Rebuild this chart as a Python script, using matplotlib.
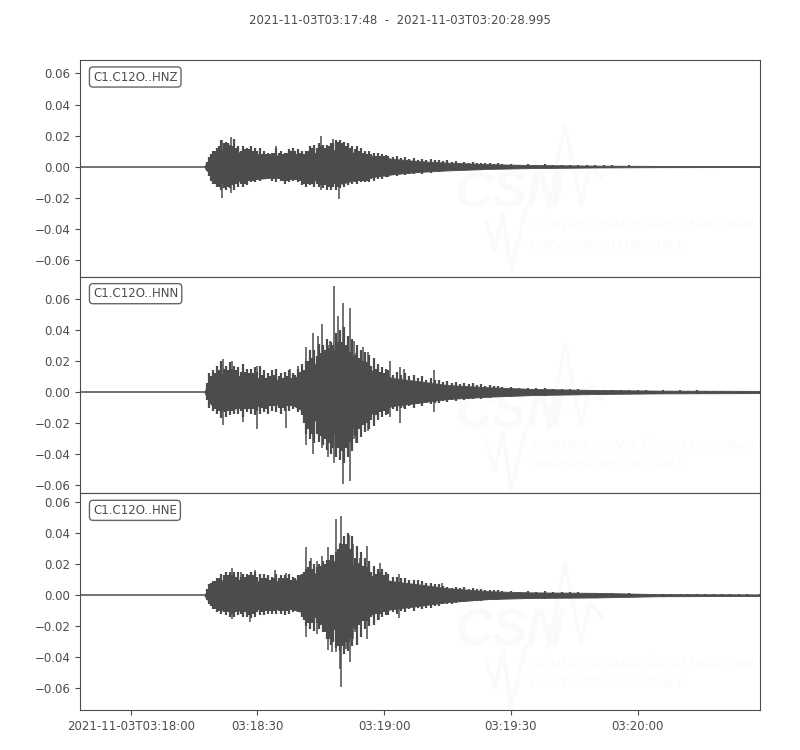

import matplotlib
matplotlib.use("Agg")
import matplotlib.pyplot as plt

TITLE = "2021-11-03T03:17:48  -  2021-11-03T03:20:28.995"
XTICKS = [0, 30, 60, 90, 120]
XTICK_LABELS = ["2021-11-03T03:18:00", "03:18:30", "03:19:00", "03:19:30", "03:20:00"]
YTICKS = [-0.06, -0.04, -0.02, 0.0, 0.02, 0.04, 0.06]

# seconds after 03:18:00
TIME_QUIET = [-12, 17.5]
TIME = [18, 19, 20, 21, 22, 23, 24, 25, 26, 27, 28, 29, 30, 31, 32, 33, 34, 35, 36, 37, 38,
        39, 40, 41, 42, 43, 44, 45, 46, 47, 48, 49, 50, 51, 52, 53, 54, 55, 56, 57, 58, 59, 60,
        62, 64, 66, 68, 70, 72, 74, 76, 78, 80, 82, 84, 86, 88,
        92, 96, 100, 104, 108, 112, 116, 120, 124, 128, 132, 136, 140, 144, 149]
# oscillation peaks between the knots above
TIME_JAG = [18.5, 19.5, 20.5, 21.5, 22.5, 23.5, 24.5, 25.5, 26.5, 27.5, 28.5, 29.5, 30.5, 31.5,
            32.5, 33.5, 34.5, 35.5, 36.5, 37.5, 38.5, 39.5, 40.5, 41.5, 42.5, 43.5, 44.5, 45.5,
            46.5, 47.5, 48.5, 49.5, 50.5, 51.5, 52.5, 53.5, 54.5, 55.5, 56.5, 57.5, 58.5, 59.5, 60.5,
            61, 63, 65, 67, 69, 71, 73, 75, 77, 79, 81, 83, 85, 87,
            90, 94, 98, 102, 106, 110, 114, 118, 122, 126, 130, 134, 138, 142, 146]
# solid band of the trace, half width
TIME_CORE = [17.5, 19, 22, 26, 30, 34, 38, 42, 46, 50, 54, 58, 62, 68, 75, 85, 95, 110, 125, 149]

# envelopes in units of 0.001
HNZ_CORE = [0.5, 6, 11, 9, 8, 7, 8, 8, 10, 11, 8, 6.5, 5, 3.5, 2.5, 1.5, 1, 0.6, 0.4, 0.3]
HNZ_UP = [3, 8, 10, 13, 15, 15, 13, 12, 10, 11, 11, 10, 10, 8, 8, 8, 9, 9, 8, 9, 10,
          10, 9, 8, 10, 12, 12, 13, 12, 13, 15, 16, 15, 13, 12, 11, 10, 9, 8, 8, 7, 7, 6.5,
          6, 5.5, 5, 4.5, 4, 4, 3.5, 3, 2.5, 2.5, 2, 2, 1.8, 1.6,
          1.3, 1.2, 1, 0.9, 0.8, 0.7, 0.6, 0.5, 0.4, 0.4, 0.35, 0.3, 0.3, 0.3, 0.3]
HNZ_LOW = [-3, -9, -11, -13, -14, -13, -12, -11, -11, -11, -9, -9, -8, -6, -6, -7, -8, -8, -9, -9, -8,
           -8, -9, -11, -11, -11, -11, -12, -12, -13, -13, -13, -11, -10, -10, -10, -9, -9, -9, -8, -7, -7, -6,
           -5.5, -5, -4.5, -4, -3.5, -3, -3, -2.5, -2.2, -2, -1.8, -1.6, -1.4, -1.3,
           -1.2, -1, -0.9, -0.8, -0.7, -0.7, -0.5, -0.5, -0.4, -0.3, -0.3, -0.3, -0.3, -0.3, -0.3]
HNZ_JAG_UP = [6, 10, 12, 17, 16, 14, 18, 13, 13, 12, 13, 12, 12, 10, 9, 9, 12, 10, 9, 11,
              12, 11, 10, 10, 13, 14, 15, 14, 14, 15, 17, 17, 16, 15, 13, 13, 12, 10, 10, 9, 9, 8, 7.5,
              7, 6.5, 6, 5.5, 5, 5, 4, 4, 3.5, 3, 2.8, 2.5, 2.2, 2,
              1.7, 1.5, 1.4, 1.2, 1, 0.9, 0.8, 0.7, 0.6, 0.5, 0.5, 0.5, 0.4, 0.4, 0.4]
HNZ_JAG_LOW = [-6, -11, -13, -15, -15, -14, -15, -13, -13, -12, -10, -10, -9, -8, -7, -9, -10, -9, -11, -10,
               -9, -10, -12, -13, -12, -13, -13, -14, -15, -15, -15, -14, -13, -12, -11, -11, -10, -10, -10, -9, -8, -8, -7,
               -6.5, -6, -5.5, -5, -4.5, -4, -3.5, -3, -2.8, -2.5, -2.2, -2, -1.8, -1.6,
               -1.4, -1.2, -1.1, -1, -0.9, -0.8, -0.7, -0.6, -0.5, -0.5, -0.4, -0.4, -0.4, -0.4, -0.4]
HNZ_SPIKE_T = [21.4, 21.6, 23.8, 34.3, 45, 48, 49.3]
HNZ_SPIKE_UP = [17, 17, 19, 13.5, 20, 17.5, 15]
HNZ_SPIKE_LOW = [-14, -20, -17, -8, -15, -13, -21]

HNN_CORE = [0.5, 8, 12, 10, 9, 8, 8, 14, 24, 29, 20, 12, 9, 7, 4.5, 3, 2, 1.3, 0.9, 0.7]
HNN_UP = [6, 10, 12, 14, 15, 14, 15, 14, 13, 13, 12, 12, 13, 11, 9, 10, 11, 10, 9, 10, 9,
          11, 13, 14, 20, 22, 23, 25, 27, 28, 30, 32, 32, 30, 26, 24, 22, 20, 19, 17, 15, 13, 12,
          11, 11, 10, 9, 8, 7.5, 6.5, 6, 5, 5, 4.5, 4, 3.8, 3.5,
          2.8, 2.3, 2, 1.7, 1.4, 1.1, 1, 1, 0.9, 0.8, 0.8, 0.7, 0.7, 0.7, 0.7]
HNN_LOW = [-5, -8, -11, -12, -13, -12, -12, -11, -12, -11, -11, -11, -12, -10, -11, -9, -9, -10, -10, -9, -9,
           -9, -11, -20, -24, -27, -27, -28, -30, -33, -36, -36, -38, -36, -32, -28, -24, -21, -20, -18, -15, -13, -12,
           -11, -10, -9, -8, -7, -7, -6, -5, -4.5, -4.5, -4, -3.5, -3.3, -3,
           -2.6, -2.2, -2, -1.7, -1.5, -1.3, -1.2, -1.1, -1, -0.9, -0.8, -0.7, -0.7, -0.7, -0.7]
HNN_JAG_UP = [12, 14, 17, 20, 17, 19, 17, 16, 18, 15, 15, 16, 17, 14, 12, 14, 15, 12, 13, 14,
              12, 15, 18, 20, 27, 27, 31, 30, 34, 32, 38, 40, 42, 36, 34, 30, 27, 26, 24, 22, 18, 16, 15,
              14, 13, 12, 11, 10, 9, 8, 7, 6.5, 6, 5.5, 5, 4.5, 4,
              3.3, 2.8, 2.5, 2.1, 1.8, 1.5, 1.3, 1.2, 1.1, 1.1, 1, 1, 0.9, 0.9, 0.9]
HNN_JAG_LOW = [-10, -12, -14, -17, -16, -15, -14, -14, -16, -13, -14, -15, -14, -13, -14, -12, -13, -14, -12, -12,
               -11, -13, -15, -27, -30, -33, -32, -34, -37, -40, -42, -44, -46, -42, -38, -33, -29, -26, -24, -22, -18, -16, -15,
               -14, -12, -11, -10, -9, -8, -7, -6.5, -6, -5, -4.5, -4.2, -3.8, -3.5,
               -3.2, -2.7, -2.5, -2.2, -1.9, -1.6, -1.5, -1.3, -1.2, -1.1, -1, -1, -0.9, -0.9, -0.9]
HNN_SPIKE_T = [21.8, 23.9, 26.6, 29.8, 36.7, 37.7, 39.7, 41.6, 43.2, 44.4, 45.4, 46.7, 47.2, 48.1, 49, 50.2,
               51.9, 52.8, 53.3, 55, 56.2, 61.4, 63.8, 64.6, 71.8]
HNN_SPIKE_UP = [21, 20, 14, 17, 9, 15, 17, 29, 38, 36, 44, 30, 33, 68, 49, 57,
                54, 33, 25, 29, 26, 20, 16, 15, 14]
HNN_SPIKE_LOW = [-21, -12, -19, -24, -23, -9, -11, -34, -40, -27, -36, -42, -33, -46, -36, -59,
                 -57, -30, -33, -21, -25, -16, -20, -10, -13]

HNE_CORE = [0.5, 6, 10, 10, 9, 9, 9, 12, 17, 26, 17, 11, 9, 7, 4.5, 2.5, 1.8, 1.5, 0.7, 0.5]
HNE_UP = [4, 8, 9, 11, 13, 13, 13, 12, 12, 12, 13, 13, 12, 11, 11, 10, 11, 11, 11, 11, 10,
          11, 13, 15, 18, 17, 18, 19, 20, 23, 26, 30, 33, 33, 30, 24, 21, 19, 18, 15, 14, 15, 13,
          12, 11, 10, 9.5, 8, 7, 6, 4.8, 4.5, 4.2, 4, 3.6, 3.2, 2.8,
          2.1, 2.1, 2.1, 1.9, 1.7, 1.4, 1, 0.9, 0.8, 0.7, 0.6, 0.6, 0.5, 0.5, 0.5]
HNE_LOW = [-3, -7, -9, -10, -11, -11, -12, -11, -12, -11, -13, -12, -11, -11, -10, -10, -10, -10, -10, -10, -9,
           -9, -10, -16, -18, -18, -18, -19, -24, -28, -30, -33, -33, -30, -28, -22, -19, -17, -17, -14, -12, -12, -11,
           -11, -10, -9, -8.5, -8, -7, -6, -5.4, -4.5, -4, -3.6, -3.2, -2.8, -2.5,
           -2.1, -2, -1.9, -1.8, -1.7, -1.4, -1, -0.9, -0.8, -0.7, -0.6, -0.6, -0.5, -0.5, -0.5]
HNE_JAG_UP = [7, 9, 11, 14, 15, 15, 15, 15, 14, 14, 15, 15, 14, 14, 13, 12, 14, 13, 13, 14,
              12, 13, 14, 17, 22, 20, 20, 22, 23, 26, 28, 33, 38, 40, 38, 32, 28, 24, 22, 19, 17, 17, 15,
              14, 12, 11, 10, 9, 8, 7, 5.5, 5, 5, 4.5, 4, 3.6, 3.2,
              2.5, 2.5, 2.4, 2.2, 2, 1.7, 1.3, 1.1, 1, 0.9, 0.8, 0.7, 0.7, 0.6, 0.6]
HNE_JAG_LOW = [-6, -9, -11, -12, -13, -14, -14, -13, -14, -14, -15, -14, -13, -13, -12, -12, -12, -12, -13, -12,
               -11, -11, -14, -20, -22, -23, -22, -24, -28, -32, -34, -36, -38, -36, -33, -32, -27, -22, -20, -19, -16, -14, -13,
               -13, -12, -11, -10, -9, -8, -7, -6, -5, -4.5, -4, -3.5, -3.2, -2.8,
               -2.4, -2.3, -2.2, -2, -1.9, -1.7, -1.3, -1.1, -1, -0.9, -0.8, -0.7, -0.7, -0.6, -0.6]
HNE_SPIKE_T = [24, 26.2, 28.3, 29.4, 34.1, 36.7, 41.6, 42.8, 44, 45.4, 46.8, 47.7, 48.5, 49.5, 49.9, 51,
               51.7, 52, 52.7, 53, 54.2, 56, 58.7, 59, 63.5, 73.6]
HNE_SPIKE_UP = [17.6, 15, 12, 16, 16, 14.6, 31, 24, 22, 25, 31, 25, 49, 34, 51, 32,
                39, 30, 33, 22, 24, 32, 14, 21, 14, 8]
HNE_SPIKE_LOW = [-15.5, -11, -17.6, -12, -10, -10, -27, -18, -25, -19, -35.5, -37, -36.5, -48, -59.5, -35,
                 -30, -43, -28, -24, -19, -28, -16, -12, -15, -6]

CHANNELS = ["C1.C12O..HNZ", "C1.C12O..HNN", "C1.C12O..HNE"]
YLIMS = [(-0.071, 0.0687), (-0.0652, 0.0742), (-0.0742, 0.0658)]
INK = "#4c4c4c"
WATERMARK = "#fafafa"

W, H = 800, 750


def fx(px):
    return px / W


def fy(py):
    return 1 - py / H


def milli(values):
    return [v / 1000 for v in values]


def draw_watermark(ax, fig, dy):
    """Faint logo behind the trace, placed in figure pixels."""
    tr = fig.transFigure
    ax.text(fx(455), fy(207 + dy), "CSN", transform=tr, color=WATERMARK, fontsize=37, family="Liberation Sans",
            style="italic", weight="bold", clip_on=False, zorder=0)
    ax.text(fx(532), fy(229 + dy), "CENTRO SISMOLÓGICO NACIONAL", transform=tr, color=WATERMARK,
            fontsize=9.5, family="Liberation Sans", style="italic", clip_on=False, zorder=0)
    ax.text(fx(530), fy(249 + dy), "UNIVERSIDAD DE CHILE", transform=tr, color=WATERMARK,
            fontsize=9.5, family="Liberation Sans", style="italic", clip_on=False, zorder=0)
    ax.plot([fx(p) for p in (548, 565, 581, 590, 603)],
            [fy(p + dy) for p in (208, 125, 205, 165, 180)],
            transform=tr, color=WATERMARK, lw=2.5, clip_on=False, zorder=0)
    ax.plot([fx(p) for p in (486, 495, 503, 511, 526)],
            [fy(p + dy) for p in (222, 250, 212, 270, 208)],
            transform=tr, color=WATERMARK, lw=2.5, clip_on=False, zorder=0)


def draw_trace(ax, core, up, low, jag_up, jag_low, spike_t, spike_up, spike_low):
    half = milli(core)
    ax.plot(TIME_QUIET, [0, 0], color=INK, lw=1.1, zorder=2)
    ax.fill_between(TIME_CORE, [-v for v in half], half, color=INK, lw=0.6, zorder=2)
    ax.vlines(TIME, milli(low), milli(up), color=INK, lw=1.6, zorder=2)
    ax.vlines(TIME_JAG, milli(jag_low), milli(jag_up), color=INK, lw=1.6, zorder=2)
    ax.vlines(spike_t, milli(spike_low), milli(spike_up), color=INK, lw=1.1, zorder=2)
    ax.plot([TIME_CORE[-1] - 0.005, TIME_CORE[-1]], [0, 0], color=INK, lw=1.1, zorder=2)


plt.rcParams["font.family"] = "DejaVu Sans"
plt.rcParams["font.size"] = 8.5

fig, axes = plt.subplots(3, 1, figsize=(8, 7.5), dpi=100, sharex=True)
fig.subplots_adjust(left=80 / W, right=760 / W, top=1 - 60 / H, bottom=1 - 710 / H, hspace=0)

traces = [
    (HNZ_CORE, HNZ_UP, HNZ_LOW, HNZ_JAG_UP, HNZ_JAG_LOW, HNZ_SPIKE_T, HNZ_SPIKE_UP, HNZ_SPIKE_LOW),
    (HNN_CORE, HNN_UP, HNN_LOW, HNN_JAG_UP, HNN_JAG_LOW, HNN_SPIKE_T, HNN_SPIKE_UP, HNN_SPIKE_LOW),
    (HNE_CORE, HNE_UP, HNE_LOW, HNE_JAG_UP, HNE_JAG_LOW, HNE_SPIKE_T, HNE_SPIKE_UP, HNE_SPIKE_LOW),
]
offsets = [0, 220, 438]

for ax, trace, name, ylim, dy in zip(axes, traces, CHANNELS, YLIMS, offsets):
    draw_watermark(ax, fig, dy)
    draw_trace(ax, *trace)
    ax.set_xlim(-12, 148.995)
    ax.set_ylim(*ylim)
    ax.set_yticks(YTICKS)
    ax.tick_params(colors=INK, labelsize=8.5, length=3.5, width=0.8)
    for spine in ax.spines.values():
        spine.set_color(INK)
    ax.text(0.0191, 0.9215, name, transform=ax.transAxes, color=INK, fontsize=8.5,
            ha="left", va="center", zorder=5,
            bbox=dict(boxstyle="round,pad=0.3", fc="white", ec="#666666", lw=1))

axes[-1].set_xticks(XTICKS)
axes[-1].set_xticklabels(XTICK_LABELS)
for ax in axes[:-1]:
    ax.tick_params(axis="x", length=0, labelbottom=False)

fig.text(0.5, fy(20), TITLE, color=INK, fontsize=8.45, ha="center", va="center")

fig.savefig("out.png", dpi=100)
